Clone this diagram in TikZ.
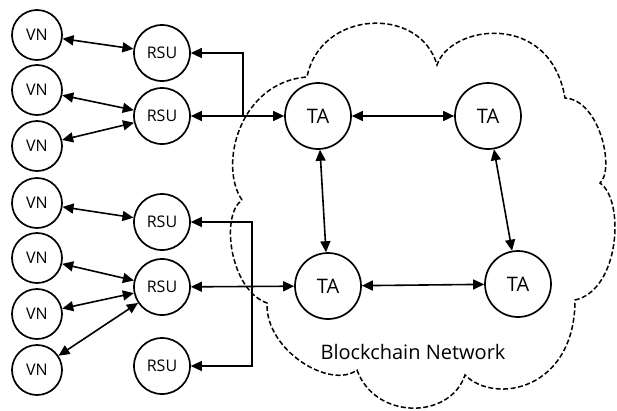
\documentclass[tikz,border=0pt]{standalone}
\usepackage{fontspec}
\setmainfont{Open Sans}
\usetikzlibrary{arrows.meta}
\begin{document}
\begin{tikzpicture}[x=1pt,y=-1pt,
  tip/.style={{Triangle[length=11pt,width=10pt]}-{Triangle[length=11pt,width=10pt]}},
  tipend/.style={-{Triangle[length=11pt,width=10pt]}},
  conn/.style={line width=1.6pt},
  vn/.style={circle,draw,line width=1.7pt,minimum size=50pt,inner sep=0pt,font=\fontsize{16}{19}\selectfont},
  rsu/.style={circle,draw,line width=1.7pt,minimum size=56pt,inner sep=0pt,font=\fontsize{16}{19}\selectfont},
  ta/.style={circle,draw,line width=1.7pt,minimum size=66pt,inner sep=0pt,font=\fontsize{20}{24}\selectfont},
  cloud/.style={line width=1.5pt,dash pattern=on 5pt off 2.5pt}]
\useasboundingbox (0,0) rectangle (617,410);
% cloud
\draw[cloud] (242,200) .. controls (218,165) and (240,82) .. (307,77)
  .. controls (320,10) and (420,5) .. (437,65)
  .. controls (450,25) and (550,10) .. (565,98)
  .. controls (600,100) and (615,170) .. (600,183)
  .. controls (625,200) and (620,290) .. (575,300)
  .. controls (575,390) and (495,405) .. (465,375)
  .. controls (450,420) and (375,420) .. (357,370)
  .. controls (330,390) and (265,350) .. (267,303)
  .. controls (230,290) and (220,215) .. cycle;
\node[font=\fontsize{20}{24}\selectfont] (lbl) at (413,352) {Blockchain Network};
% nodes
\node[vn] (v1) at (37,35) {VN};
\node[vn] (v2) at (37,90) {VN};
\node[vn] (v3) at (37,146) {VN};
\node[vn] (v4) at (37,203) {VN};
\node[vn] (v5) at (37,258) {VN};
\node[vn] (v6) at (37,314) {VN};
\node[vn] (v7) at (37,370) {VN};
\node[rsu] (r1) at (162,53) {RSU};
\node[rsu] (r2) at (162,116) {RSU};
\node[rsu] (r3) at (162,222) {RSU};
\node[rsu] (r4) at (162,287) {RSU};
\node[rsu] (r5) at (162,366) {RSU};
\node[ta] (t1) at (318,116) {TA};
\node[ta] (t2) at (488,116) {TA};
\node[ta] (t3) at (328,286) {TA};
\node[ta] (t4) at (518,284) {TA};
\coordinate (j1) at (243,116);
\coordinate (j2) at (252,290);
% connectors
\draw[conn,tip] (v1) -- (r1);
\draw[conn,tip] (v2) -- (r2);
\draw[conn,tip] (v3) -- (r2);
\draw[conn,tip] (v4) -- (r3);
\draw[conn,tip] (v5) -- (r4);
\draw[conn,tip] (v6) -- (r4);
\draw[conn,tip] (v7) -- (r4);
\draw[conn,tip] (r2) -- (t1);
\draw[conn,tip] (r4) -- (t3);
\draw[conn,tipend] (j1) |- (r1);
\draw[conn,tip] (r3) -| (j2) |- (r5);
\draw[conn,tip] (t1) -- (t2);
\draw[conn,tip] (t3) -- (t4);
\draw[conn,tip] (t1) -- (t3);
\draw[conn,tip] (t2) -- (t4);
\end{tikzpicture}
\end{document}
